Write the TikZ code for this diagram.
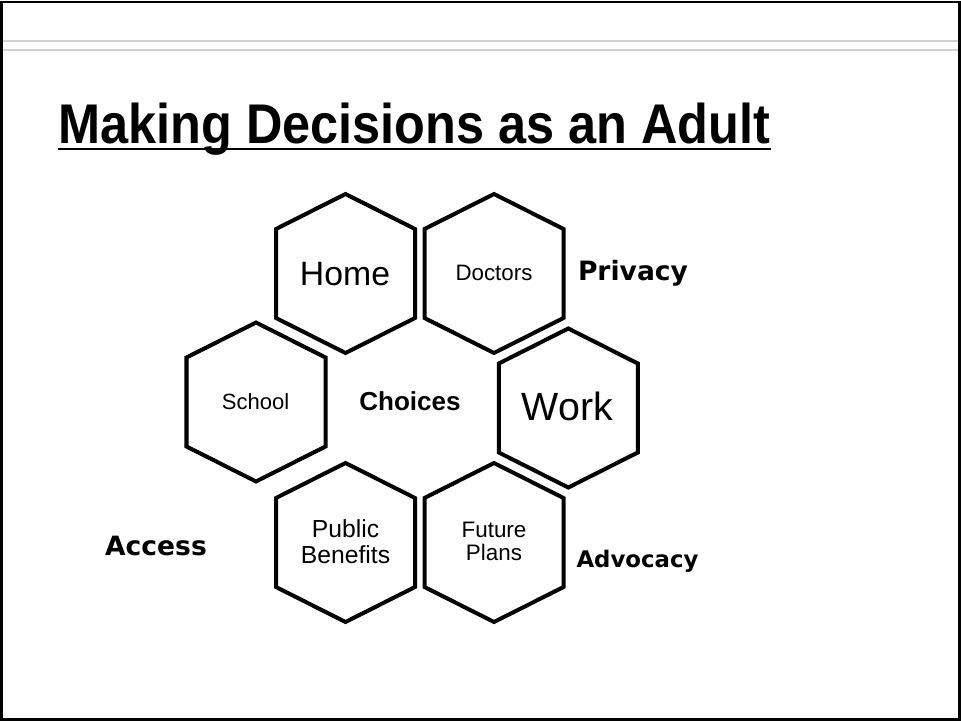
\documentclass[tikz,border=0pt]{standalone}
\usepackage{fontspec}
\setmainfont{Liberation Sans}
\newfontfamily\verdfont{DejaVu Sans}
\usetikzlibrary{calc}
\newcommand{\fsz}[1]{\fontsize{#1pt}{#1pt}\selectfont}
\begin{document}
\begin{tikzpicture}[x=0.7492pt,y=-0.7492pt,
  hexa/.style={draw=black,line width=3pt,line join=miter},
  txt/.style={inner sep=0pt,anchor=base,text=black},
  side/.style={txt,font=\verdfont\bfseries},
  frame/.style={draw=black,line width=2.2pt},
  rule/.style={draw=black!18,line width=0.8pt}]
\useasboundingbox (0,0) rectangle (961,721);
% slide frame and header rules
\draw[frame] (1.5,2) rectangle (959.5,719.5);
\coordinate (r1a) at (3,41); \coordinate (r1b) at (958,41);
\coordinate (r2a) at (3,50); \coordinate (r2b) at (958,50);
\draw[rule] (r1a) -- (r1b);
\draw[rule] (r2a) -- (r2b);
% title
\node[txt,anchor=base west,font=\bfseries\fsz{41.9}] (title) at (58,143)
  {\scalebox{0.902}[1]{Making Decisions as an Adult}};
\draw[line width=2.2pt] ($(title.base west)+(0,6)$) -- ($(title.base east)+(0,6)$);
% hexagon centres
\coordinate (home) at (345.5,273.5);
\coordinate (doc) at (494,273.5);
\coordinate (school) at (256,402);
\coordinate (work) at (568.3,408);
\coordinate (pub) at (345.5,542.5);
\coordinate (fut) at (494,542.5);
\foreach \c in {home,doc,school,work,pub,fut}{
  \draw[hexa,shift={(\c)}] (0,-79.5) -- (69.5,-44.5) -- (69.5,44.5) -- (0,79.5)
     -- (-69.5,44.5) -- (-69.5,-44.5) -- cycle;
}
% labels
\node[txt,font=\fsz{25.3}] (homeT) at (345,285) {Home};
\node[txt,font=\fsz{16.7}] (docT) at (494,280.7) {Doctors};
\node[txt,font=\fsz{16.5}] (schoolT) at (255.5,409) {School};
\node[txt,font=\bfseries\fsz{19.5}] (choT) at (410,410.7) {Choices};
\node[txt,font=\fsz{29.5}] (workT) at (567.5,420) {Work};
\node[txt,font=\fsz{18.5}] (pubA) at (345.5,537.3) {Public};
\node[txt,font=\fsz{18.5}] (pubB) at (345.5,563.3) {Benefits};
\node[txt,font=\fsz{16.8}] (futA) at (494,537.3) {Future};
\node[txt,font=\fsz{16.8}] (futB) at (494,560) {Plans};
\node[side,font=\verdfont\bfseries\fsz{19.9}] (priv) at (633,280.7) {Privacy};
\node[side,font=\verdfont\bfseries\fsz{19.9}] (acc) at (156,555) {Access};
\node[side,font=\verdfont\bfseries\fsz{17.1}] (adv) at (637.5,567.3) {Advocacy};
\end{tikzpicture}
\end{document}
